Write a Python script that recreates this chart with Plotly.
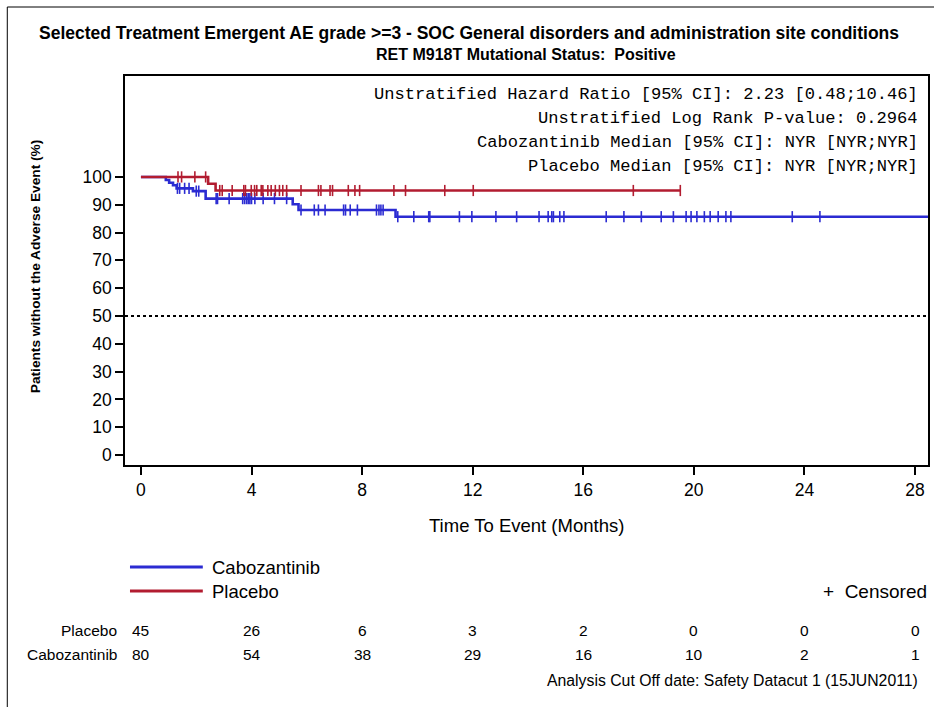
import numpy as np
import plotly.graph_objects as go

# ---------------- data ----------------
cabo_step_t = [0, 0.90, 1.02, 1.16, 1.29, 1.88, 2.34, 5.49, 5.70, 9.21]
cabo_step_s = [100, 98.9, 97.9, 97.0, 95.9, 94.9, 92.2, 90.2, 88.1, 85.7]
cabo_end_t = 28.6
cabo_cens_t = [1.32, 1.40, 1.58, 1.74, 2.00, 2.09,
               2.72, 2.77, 3.19, 3.68, 3.75, 3.82, 3.88, 3.94, 4.00, 4.12, 4.42, 4.83, 5.27,
               5.79, 6.27, 6.42, 6.66, 7.33, 7.40, 7.57, 7.83, 8.52, 8.61, 8.68, 8.76,
               9.29, 9.87, 10.41, 10.45, 11.52, 11.97, 12.84, 13.59, 14.40, 14.73, 14.86,
               14.92, 15.15, 15.30, 16.83, 17.47, 18.10, 18.82, 19.26, 19.72, 19.90, 20.11,
               20.38, 20.59, 20.88, 21.16, 21.34, 23.56, 24.56]

plac_step_t = [0, 2.43, 2.70]
plac_step_s = [100, 97.56, 95.12]
plac_end_t = 19.51
plac_cens_t = [1.34, 1.47, 1.95, 2.34, 2.85, 2.94, 3.30, 3.72, 3.78, 3.99, 4.11, 4.19,
               4.35, 4.41, 4.59, 4.71, 4.86, 5.01, 5.13, 5.27, 5.79, 6.42, 6.51, 6.84,
               6.93, 7.50, 7.74, 7.91, 9.15, 9.57, 10.99, 12.02, 17.81, 19.51]

x_ticks = [0, 4, 8, 12, 16, 20, 24, 28]
y_ticks = [0, 10, 20, 30, 40, 50, 60, 70, 80, 90, 100]
risk_placebo = [45, 26, 6, 3, 2, 0, 0, 0]
risk_cabo = [80, 54, 38, 29, 16, 10, 2, 1]

title1 = "Selected Treatment Emergent AE grade >=3 - SOC General disorders and administration site conditions"
title2 = "RET M918T Mutational Status:  Positive"
stats_lines = ["Unstratified Hazard Ratio [95% CI]: 2.23 [0.48;10.46]",
               "Unstratified Log Rank P-value: 0.2964",
               "Cabozantinib Median [95% CI]: NYR [NYR;NYR]",
               "Placebo Median [95% CI]: NYR [NYR;NYR]"]
footnote = "Analysis Cut Off date: Safety Datacut 1 (15JUN2011)"

# ---------------- layout helpers ----------------
W, H = 934, 707
L, R, T, B = 125, 930, 76, 465


def px(x):
    return (x - L) / (R - L)


def py(y):
    return (B - y) / (B - T)


BLUE = "#2B2BD2"
RED = "#B21C30"
SANS = "Liberation Sans, Arial, sans-serif"
MONO = "Liberation Mono, Courier New, monospace"


def surv_at(step_t, step_s, t):
    idx = np.searchsorted(np.array(step_t), np.array(t), side="right") - 1
    return list(np.array(step_s)[idx])


fig = go.Figure()

for st, ss, end, ct, col, name in [
    (cabo_step_t, cabo_step_s, cabo_end_t, cabo_cens_t, BLUE, "Cabozantinib"),
    (plac_step_t, plac_step_s, plac_end_t, plac_cens_t, RED, "Placebo"),
]:
    fig.add_trace(go.Scatter(x=list(st) + [end], y=list(ss) + [ss[-1]], mode="lines",
                             line=dict(color=col, width=2.6, shape="hv"), name=name,
                             showlegend=False, hoverinfo="skip"))
    fig.add_trace(go.Scatter(x=ct, y=surv_at(st, ss, ct), mode="markers",
                             marker=dict(symbol="line-ns-open", size=8, color=col,
                                         line=dict(color=col, width=1.6)),
                             showlegend=False, hoverinfo="skip"))

fig.update_layout(
    width=W, height=H,
    margin=dict(l=L, r=W - R, t=T, b=H - B),
    paper_bgcolor="white", plot_bgcolor="white",
    font=dict(family=SANS, color="black"),
    xaxis=dict(range=[-0.577, 28.47], tickvals=x_ticks, ticks="outside", ticklen=8,
               tickwidth=1.5, tickcolor="black", showline=True, linecolor="black",
               linewidth=1.5, mirror=True, showgrid=False, zeroline=False,
               tickfont=dict(size=17.5, family=SANS)),
    yaxis=dict(range=[-3.6, 136.3], tickvals=y_ticks, ticks="outside", ticklen=8,
               tickwidth=1.5, tickcolor="black", showline=True, linecolor="black",
               linewidth=1.5, mirror=True, showgrid=False, zeroline=False,
               tickfont=dict(size=17.5, family=SANS)),
)

shapes = [
    dict(type="line", xref="paper", yref="y", x0=0, x1=1, y0=50, y1=50,
         line=dict(color="black", width=2, dash="dot")),
    dict(type="line", xref="paper", yref="paper", x0=px(7), x1=px(7), y0=py(7), y1=py(H + 5),
         line=dict(color="black", width=1)),
    dict(type="line", xref="paper", yref="paper", x0=px(7), x1=px(W + 5), y0=py(7), y1=py(7),
         line=dict(color="black", width=1)),
    dict(type="line", xref="paper", yref="paper", x0=px(130), x1=px(203), y0=py(567), y1=py(567),
         line=dict(color=BLUE, width=3)),
    dict(type="line", xref="paper", yref="paper", x0=px(130), x1=px(203), y0=py(591), y1=py(591),
         line=dict(color=RED, width=3)),
]
fig.update_layout(shapes=shapes)

ann = []


def text(x, y, s, size, anchor="center", bold=False, family=SANS, angle=0):
    ann.append(dict(xref="paper", yref="paper", x=px(x), y=py(y), text=("<b>%s</b>" % s) if bold else s,
                    showarrow=False, xanchor=anchor, yanchor="middle", textangle=angle,
                    font=dict(size=size, family=family, color="black")))


text(470, 33, title1, 17.5, bold=True)
text(527, 54, title2, 16, bold=True)
for i, s in enumerate(stats_lines):
    text(922, 94 + i * 24.3, s, 17.1, anchor="right", family=MONO)
text(527, 525, "Time To Event (Months)", 18.5)
text(35, 266, "Patients without the Adverse Event (%)", 13.7, bold=True, angle=-90)
text(210, 567, "Cabozantinib", 18.5, anchor="left")
text(210, 591, "Placebo", 18.5, anchor="left")
text(931, 591, "+  Censored", 19, anchor="right")
text(119, 630, "Placebo", 15.5, anchor="right")
text(119, 654, "Cabozantinib", 15.5, anchor="right")
text(922, 680, footnote, 15.8, anchor="right")

for xv, p, c in zip(x_ticks, risk_placebo, risk_cabo):
    ann.append(dict(xref="x", yref="paper", x=xv, y=py(630), text=str(p), showarrow=False,
                    xanchor="center", yanchor="middle", font=dict(size=15.5, family=SANS)))
    ann.append(dict(xref="x", yref="paper", x=xv, y=py(654), text=str(c), showarrow=False,
                    xanchor="center", yanchor="middle", font=dict(size=15.5, family=SANS)))

fig.update_layout(annotations=ann)
fig.write_html("out.html", config={"displayModeBar": False},
               post_script="document.body.style.margin='0px';")
